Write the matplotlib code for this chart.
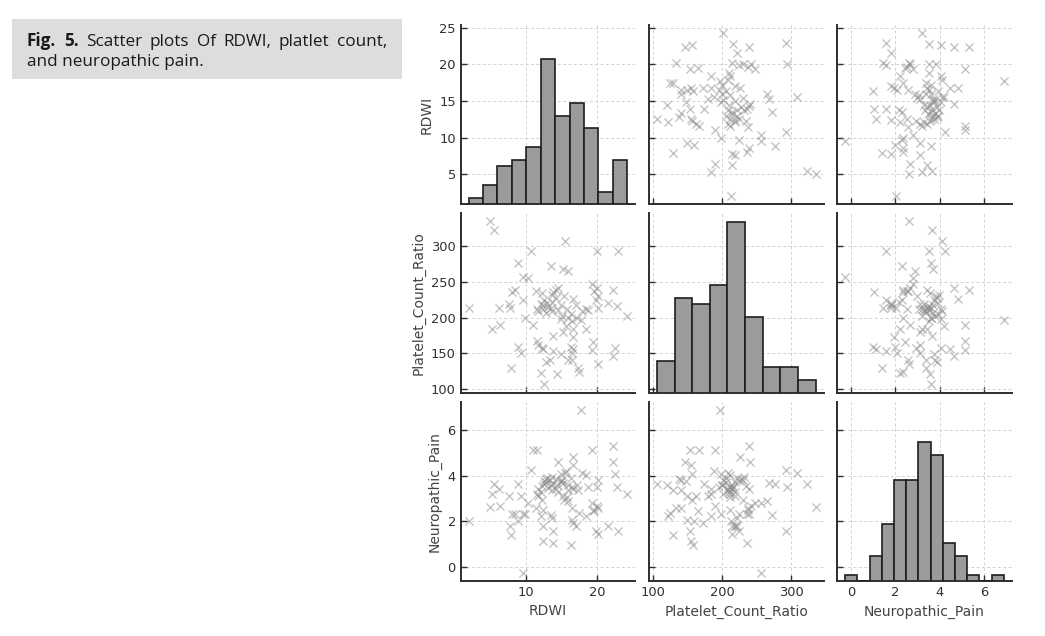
import numpy as np
import matplotlib
matplotlib.use("Agg")
import matplotlib.pyplot as plt
from matplotlib.patches import Rectangle

# ---------------- data ----------------
rdwi = [2.01, 5.05, 5.3, 5.5, 6.2, 6.4, 7.6, 7.75, 7.9, 8.1,
        8.55, 8.9, 9.0, 9.3, 9.6, 9.7, 9.95, 10.4, 10.8, 11.0,
        11.4, 11.6, 11.8, 12.1, 12.3, 12.4, 12.6, 12.1, 13.0, 13.2,
        12.5, 13.5, 13.7, 11.8, 12.9, 13.7, 14.2, 11.6, 13.7, 14.3,
        14.6, 15.56, 15.2, 15.9, 13.5, 15.1, 16.0, 16.5, 15.6, 15.3,
        16.3, 15.8, 14.9, 16.7, 16.7, 16.7, 13.9, 12.5, 14.9, 16.3,
        16.7, 16.5, 16.0, 16.5, 12.8, 13.4, 17.4, 17.5, 14.4, 12.6,
        12.3, 13.9, 18.4, 17.7, 18.4, 18.8, 17.9, 19.3, 20.0, 19.6,
        20.1, 20.0, 22.9, 21.6, 22.8, 20.2, 24.25, 19.5, 19.3, 22.6,
        22.3, 20.2, 22.3, 17.0, 19.9, 13.9, 15.0, 14.5, 15.4, 17.2]
platelet = [213, 335.2, 184, 323, 214, 190, 219, 214, 129, 236,
            239, 277, 159, 150, 257, 224, 199, 256, 293, 190,
            238, 167, 162, 122, 234, 218, 224, 219, 221, 215,
            212, 214, 209, 209, 206, 222, 228, 212, 231, 239,
            241, 308, 268, 265, 272, 202, 200, 195, 188, 179,
            205, 212, 198, 184, 226, 172, 174, 155, 148, 158,
            155, 150, 140, 140, 137, 140, 129, 124, 120, 105.8,
            157, 153, 184, 197, 212, 210, 209, 247, 242, 237,
            230, 294, 293, 221, 216, 214, 202, 165, 154, 157,
            146, 134, 239, 218, 225, 236, 218, 210, 230, 200]
pain = [2.03, 2.62, 3.19, 3.65, 3.42, 2.67, 3.09, 1.78, 1.39, 2.32,
        2.32, 3.62, 2.00, 3.09, -0.257, 2.30, 2.33, 2.80, 4.25, 5.12,
        2.58, 5.12, 3.12, 2.22, 3.55, 1.78, 3.75, 3.30, 3.90, 3.45,
        2.51, 3.60, 3.35, 3.40, 3.70, 2.14, 3.85, 3.20, 3.95, 3.40,
        4.61, 4.10, 3.67, 2.87, 2.29, 3.80, 3.60, 3.50, 4.20, 3.10,
        3.90, 3.05, 4.05, 3.40, 4.83, 1.93, 3.65, 1.13, 3.75, 0.97,
        4.46, 2.07, 3.38, 2.58, 3.85, 3.80, 3.38, 2.36, 3.57, 3.62,
        2.94, 1.57, 2.22, 6.874, 4.03, 3.52, 4.10, 2.80, 2.65, 2.51,
        3.81, 3.49, 1.57, 1.78, 3.52, 1.46, 3.19, 2.43, 5.12, 4.07,
        4.61, 2.60, 5.30, 1.78, 1.57, 1.03, 3.70, 3.30, 2.95, 3.60]

# histogram bins and counts (diagonal)
rdwi_edges = [2.01, 4.03, 6.05, 8.08, 10.10, 12.12, 14.14, 16.17, 18.19, 20.21, 22.23, 24.25]
rdwi_counts = [1, 3, 6, 7, 9, 23, 14, 16, 12, 2, 7]
platelet_edges = [105.8, 131.3, 156.8, 182.3, 207.8, 233.3, 258.8, 284.3, 309.7, 335.2]
platelet_counts = [5, 15, 14, 17, 27, 12, 4, 4, 2]
pain_edges = [-0.257, 0.292, 0.840, 1.389, 1.937, 2.486, 3.034, 3.583,
              4.131, 4.680, 5.228, 5.777, 6.325, 6.874]
pain_counts = [1, 0, 4, 9, 16, 16, 22, 20, 6, 4, 1, 0, 1]

variables = ["RDWI", "Platelet_Count_Ratio", "Neuropathic_Pain"]
tick_values = [[5, 10, 15, 20, 25], [100, 150, 200, 250, 300], [0, 2, 4, 6]]
xtick_values = [[10, 20], [100, 200, 300], [0, 2, 4, 6]]

caption_bold = ["Fig.", "5."]
caption_line1 = ["Scatter", "plots", "Of", "RDWI,", "platlet", "count,"]
caption_line2 = "and neuropathic pain."

# ---------------- figure ----------------
W, H = 1045, 636
fig = plt.figure(figsize=(W / 100, H / 100), dpi=100)

data = [rdwi, platelet, pain]
edges = [rdwi_edges, platelet_edges, pain_edges]
counts = [rdwi_counts, platelet_counts, pain_counts]

lims = []
for e in edges:
    lo, hi = e[0], e[-1]
    m = 0.05 * (hi - lo)
    lims.append((lo - m, hi + m))
diag_top = max(max(c) for c in counts) * 1.05

col_left = [460.7, 649.0, 837.3]
row_top = [25.0, 213.3, 401.7]
aw, ah = 174.5, 179.3

spine_c = "#2e2e2e"
for i in range(3):
    for j in range(3):
        ax = fig.add_axes([col_left[j] / W, 1 - (row_top[i] + ah) / H, aw / W, ah / H])
        ax.set_xlim(lims[j])
        ax.set_ylim(lims[i])
        ax.set_xticks(xtick_values[j])
        ax.set_yticks(tick_values[i])
        for s in ["top", "right"]:
            ax.spines[s].set_visible(False)
        for s in ["left", "bottom"]:
            ax.spines[s].set_color(spine_c)
            ax.spines[s].set_linewidth(1.4)
        ax.tick_params(direction="in", length=4, width=1, colors=spine_c,
                       labelsize=9.4, labelcolor="#303030")
        ax.grid(True, linestyle=(0, (3, 2.5)), color="#d2d2d2", linewidth=0.7)
        ax.set_axisbelow(True)
        if j == 0:
            ax.set_ylabel(variables[i], fontsize=10, color="#444444")
        else:
            ax.tick_params(labelleft=False)
        if i == 2:
            ax.set_xlabel(variables[j], fontsize=10, color="#444444")
        else:
            ax.tick_params(labelbottom=False)

        if i == j:
            hx = ax.twinx()
            hx.set_axis_off()
            e = np.asarray(edges[j])
            hx.bar(e[:-1], counts[j], width=np.diff(e), align="edge",
                   facecolor="#9b9b9b", edgecolor="#1e1e1e", linewidth=1.2)
            hx.set_ylim(0, diag_top)
            hx.set_xlim(lims[j])
        else:
            ax.scatter(data[j], data[i], marker="x", s=34, color="#8a8a8a",
                       alpha=0.5, linewidths=1.0)

# ---------------- caption box ----------------
fig.patches.append(Rectangle((12.3 / W, 1 - 79 / H), (401.7 - 12.3) / W, (79 - 19) / H,
                             transform=fig.transFigure, facecolor="#dddddd",
                             edgecolor="none", zorder=0))
cap_font = ["Open Sans", "DejaVu Sans"]
cap_size = 12.3
cap_color = "#1a1a1a"
renderer = fig.canvas.get_renderer()
x0, x1 = 27.0, 387.0
y1 = 1 - 46.5 / H
y2 = 1 - 66.5 / H
words = [(w, "bold") for w in caption_bold] + [(w, "normal") for w in caption_line1]
texts = []
widths = []
for w, wt in words:
    t = fig.text(0, y1, w, fontsize=cap_size, fontweight=wt, family=cap_font,
                 color=cap_color, ha="left", va="baseline")
    texts.append(t)
    widths.append(t.get_window_extent(renderer).width)
gap = (x1 - x0 - sum(widths)) / (len(words) - 1)
x = x0
for t, wd in zip(texts, widths):
    t.set_x(x / W)
    x += wd + gap
fig.text(x0 / W, y2, caption_line2, fontsize=cap_size, family=cap_font,
         color=cap_color, ha="left", va="baseline")

fig.savefig("out.png", dpi=100)
